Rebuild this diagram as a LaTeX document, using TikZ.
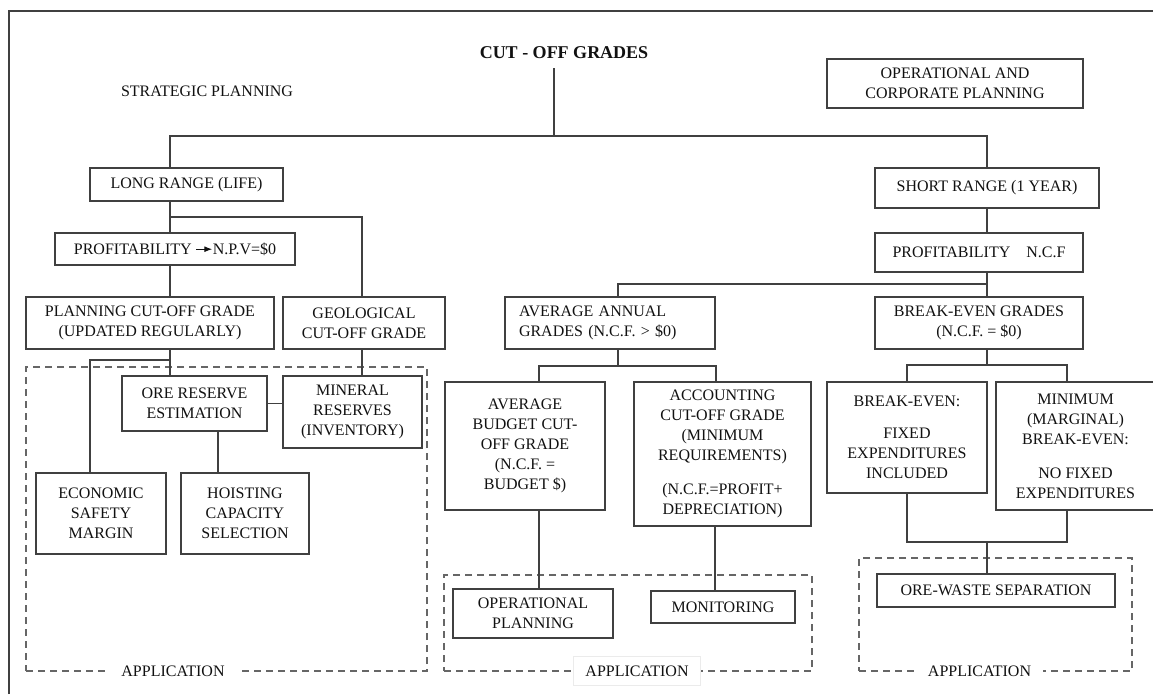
\documentclass[tikz,border=0pt]{standalone}
\usepackage{fontspec}
\setmainfont{Liberation Serif}
\usetikzlibrary{arrows.meta}
\definecolor{ln}{HTML}{404040}
\definecolor{tx}{HTML}{111111}
\definecolor{dsh}{HTML}{666666}
\newcommand\myarrow{\tikz[baseline=-5pt, x=1pt, y=1pt]\draw[draw=tx, line width=1.1pt, -{Latex[length=8pt,width=6pt]}] (0,0) -- (16,0);}
\begin{document}
\begin{tikzpicture}[x=1pt,y=-1pt,
  font=\fontsize{16}{20}\selectfont,
  box/.style={draw=ln, line width=1.1pt, text=tx, align=center, inner sep=0pt},
  wire/.style={draw=ln, line width=1.1pt},
  dashbox/.style={draw=dsh, line width=1.1pt, dash pattern=on 7pt off 5pt, inner sep=0pt},
  applbl/.style={fill=white, text=tx, inner xsep=12pt, inner ysep=6pt}]
\useasboundingbox (0,0) rectangle (1153,694);
\fill[white] (0,0) rectangle (1153,694);
\draw[draw=ln, line width=2pt] (9,694) -- (9,11) -- (1153,11);

% application areas
\node[dashbox, minimum width=401, minimum height=304] (app1) at (226.5,519) {};
\node[dashbox, minimum width=368, minimum height=96] (app2) at (628,623) {};
\node[dashbox, minimum width=273, minimum height=113] (app3) at (995.5,614.5) {};

% texts
\node[text=tx, font=\fontsize{18}{20}\selectfont\bfseries] (title) at (564,53) {CUT - OFF GRADES};
\node[text=tx] (strat) at (207,91) {STRATEGIC PLANNING};

% boxes
\node[box, minimum width=256, minimum height=49] (ocp) at (955,83.5) {OPERATIONAL AND\\CORPORATE PLANNING};
\node[box, minimum width=193, minimum height=33] (lr) at (186.5,184.5) {LONG RANGE (LIFE)};
\node[box, minimum width=224, minimum height=40] (sr) at (987,188) {SHORT RANGE (1 YEAR)};
\node[box, minimum width=240, minimum height=32] (pnpv) at (175,249) {PROFITABILITY \myarrow N.P.V=\$0};
\node[box, minimum width=208, minimum height=39] (pncf) at (979,252.5) {PROFITABILITY\quad N.C.F};
\node[box, minimum width=248, minimum height=52] (pcog) at (150,323) {PLANNING CUT-OFF GRADE\\(UPDATED REGULARLY)};
\node[box, minimum width=162, minimum height=52] (geo) at (364,323) {GEOLOGICAL\\CUT-OFF GRADE};
\node[box, minimum width=210, minimum height=52, text width=182pt, align=left] (aag) at (610,323) {AVERAGE ANNUAL\\GRADES (N.C.F. > \$0)};
\node[box, minimum width=208, minimum height=52] (beg) at (979,323) {BREAK-EVEN GRADES\\(N.C.F. = \$0)};
\node[box, minimum width=145, minimum height=55] (ore) at (194.5,403.5) {ORE RESERVE\\ESTIMATION};
\node[box, minimum width=139, minimum height=72] (min) at (352.5,412) {MINERAL\\RESERVES\\(INVENTORY)};
\node[box, minimum width=160, minimum height=128] (abc) at (525,446) {AVERAGE\\BUDGET CUT-\\OFF GRADE\\(N.C.F. =\\BUDGET \$)};
\node[box, minimum width=177, minimum height=144] (acc) at (722.5,454) {ACCOUNTING\\CUT-OFF GRADE\\(MINIMUM\\REQUIREMENTS)\\[14pt](N.C.F.=PROFIT+\\DEPRECIATION)};
\node[box, minimum width=160, minimum height=111] (be) at (907,437.5) {BREAK-EVEN:\\[12pt]FIXED\\EXPENDITURES\\INCLUDED};
\node[box, minimum width=159, minimum height=128] (mbe) at (1075.5,446) {MINIMUM\\(MARGINAL)\\BREAK-EVEN:\\[14pt]NO FIXED\\EXPENDITURES};
\node[box, minimum width=130, minimum height=81] (eco) at (101,513.5) {ECONOMIC\\SAFETY\\MARGIN};
\node[box, minimum width=128, minimum height=81] (hoi) at (245,513.5) {HOISTING\\CAPACITY\\SELECTION};
\node[box, minimum width=160, minimum height=49] (opl) at (533,613.5) {OPERATIONAL\\PLANNING};
\node[box, minimum width=144, minimum height=32] (mon) at (723,607) {MONITORING};
\node[box, minimum width=238, minimum height=33] (ows) at (996,590.5) {ORE-WASTE SEPARATION};

% junction coordinates
\coordinate (t0) at (554,68);
\coordinate (bL) at (170,136);
\coordinate (bR) at (987,136);
\coordinate (gj) at (362,217);
\coordinate (ej) at (90,360);
\coordinate (hj) at (218,0);
\coordinate (aj) at (618,284);
\coordinate (ab1) at (539,366);
\coordinate (ab2) at (716,366);
\coordinate (bb1) at (907,365);
\coordinate (bb2) at (1067,365);
\coordinate (mj) at (715,0);
\coordinate (sj1) at (907,542);
\coordinate (sj2) at (1067,542);

% connectors
\draw[wire] (t0) -- (t0 |- bL);
\draw[wire] (bL |- lr.north) -- (bL) -- (bR) -- (bR |- sr.north);
\draw[wire] (bL |- lr.south) -- (bL |- pnpv.north);
\draw[wire] (bL |- gj) -- (gj) -- (gj |- geo.north);
\draw[wire] (bL |- pnpv.south) -- (bL |- pcog.north);
\draw[wire] (bL |- pcog.south) -- (bL |- ore.north);
\draw[wire] (bL |- ej) -- (ej) -- (ej |- eco.north);
\draw[wire] (gj |- geo.south) -- (gj |- min.north);
\draw[wire] (ore.east) -- (ore.east -| min.west);
\draw[wire] (hj |- ore.south) -- (hj |- hoi.north);
\draw[wire] (bR |- sr.south) -- (bR |- pncf.north);
\draw[wire] (bR |- pncf.south) -- (bR |- beg.north);
\draw[wire] (bR |- aj) -- (aj) -- (aj |- aag.north);
\draw[wire] (aj |- aag.south) -- (aj |- ab1);
\draw[wire] (ab1 |- abc.north) -- (ab1) -- (ab2) -- (ab2 |- acc.north);
\draw[wire] (bR |- beg.south) -- (bR |- bb1);
\draw[wire] (bb1 |- be.north) -- (bb1) -- (bb2) -- (bb2 |- mbe.north);
\draw[wire] (ab1 |- abc.south) -- (ab1 |- opl.north);
\draw[wire] (mj |- acc.south) -- (mj |- mon.north);
\draw[wire] (sj1 |- be.south) -- (sj1) -- (sj2) -- (sj2 |- mbe.south);
\draw[wire] (bR |- sj1) -- (bR |- ows.north);

% application labels
\node[applbl] (l1) at (173,671) {APPLICATION};
\node[applbl, draw=black!8, line width=0.8pt, inner ysep=9pt] (l2) at (637,671) {APPLICATION};
\node[applbl] (l3) at (979.5,671) {APPLICATION};
\end{tikzpicture}
\end{document}
